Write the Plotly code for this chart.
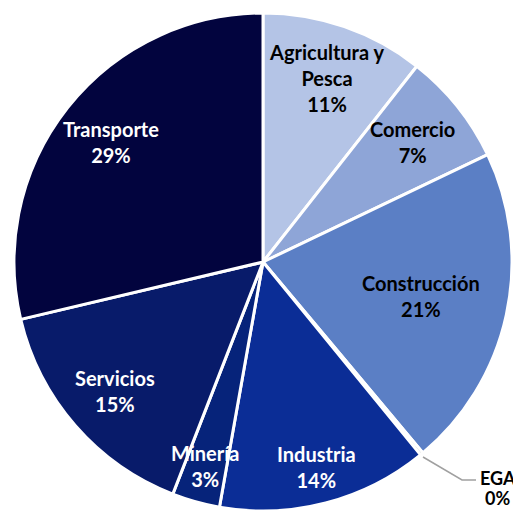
import math
import plotly.graph_objects as go

labels = ["Agricultura y Pesca", "Comercio", "Construcción", "EGA", "Industria", "Minería", "Servicios", "Transporte"]
text_labels = ["Agricultura y<br>Pesca", "Comercio", "Construcción", "EGA", "Industria", "Minería", "Servicios", "Transporte"]
values = [10.6, 7.3, 21.0, 0.2, 13.7, 3.1, 15.4, 28.7]
colors = ["#b4c4e6", "#8ea5d7", "#5b7fc5", "#7f7f7f", "#0b2d96", "#06237a", "#081b6a", "#02043e"]
text_colors = ["#000000", "#000000", "#000000", "#000000", "#ffffff", "#ffffff", "#ffffff", "#ffffff"]
label_radius = [0.78, 0.77, 0.65, None, 0.85, 0.85, 0.79, 0.78]

W, H = 521, 510
# figure coordinates (page body has an 8px offset)
cx, cy, r = 255, 254, 249
FONT = "Lato"
FS = 20

fig = go.Figure(go.Pie(
    labels=labels,
    values=values,
    sort=False,
    direction="clockwise",
    rotation=0,
    marker=dict(colors=colors, line=dict(color="white", width=3)),
    textinfo="none",
    hoverinfo="label+percent",
    showlegend=False,
    domain=dict(x=[(cx - r) / W, (cx + r) / W], y=[(H - cy - r) / H, (H - cy + r) / H]),
))

total = sum(values)
cum = 0.0
for lab, v, col, f in zip(text_labels, values, text_colors, label_radius):
    mid = (cum + v / 2) / total * 2 * math.pi
    cum += v
    pct = v / total * 100
    if f is None:
        continue
    px = cx + f * r * math.sin(mid)
    py = cy - f * r * math.cos(mid)
    fig.add_annotation(x=px / W, y=1 - py / H, xref="paper", yref="paper",
                       text=f"<b>{lab}<br>{pct:.0f}%</b>", showarrow=False,
                       font=dict(family=FONT, size=FS, color=col),
                       xanchor="center", yanchor="middle")

# EGA outside label with leader line
ega_pct = values[3] / total * 100
fig.add_shape(type="path", xref="paper", yref="paper",
              path=f"M {415/W} {1-449/H} L {454/W} {1-472/H} L {468/W} {1-472/H}",
              line=dict(color="#a0a0a0", width=1.5))
fig.add_annotation(x=490 / W, y=1 - 470 / H, xref="paper", yref="paper",
                   text=f"<b>{labels[3]}</b>", showarrow=False,
                   font=dict(family=FONT, size=18, color="black"),
                   xanchor="center", yanchor="middle")
fig.add_annotation(x=489 / W, y=1 - 490 / H, xref="paper", yref="paper",
                   text=f"<b>{ega_pct:.0f}%</b>", showarrow=False,
                   font=dict(family=FONT, size=18, color="black"),
                   xanchor="center", yanchor="middle")

fig.update_layout(width=W, height=H, margin=dict(l=0, r=0, t=0, b=0),
                  paper_bgcolor="white", plot_bgcolor="white")
fig.write_html("out.html")
